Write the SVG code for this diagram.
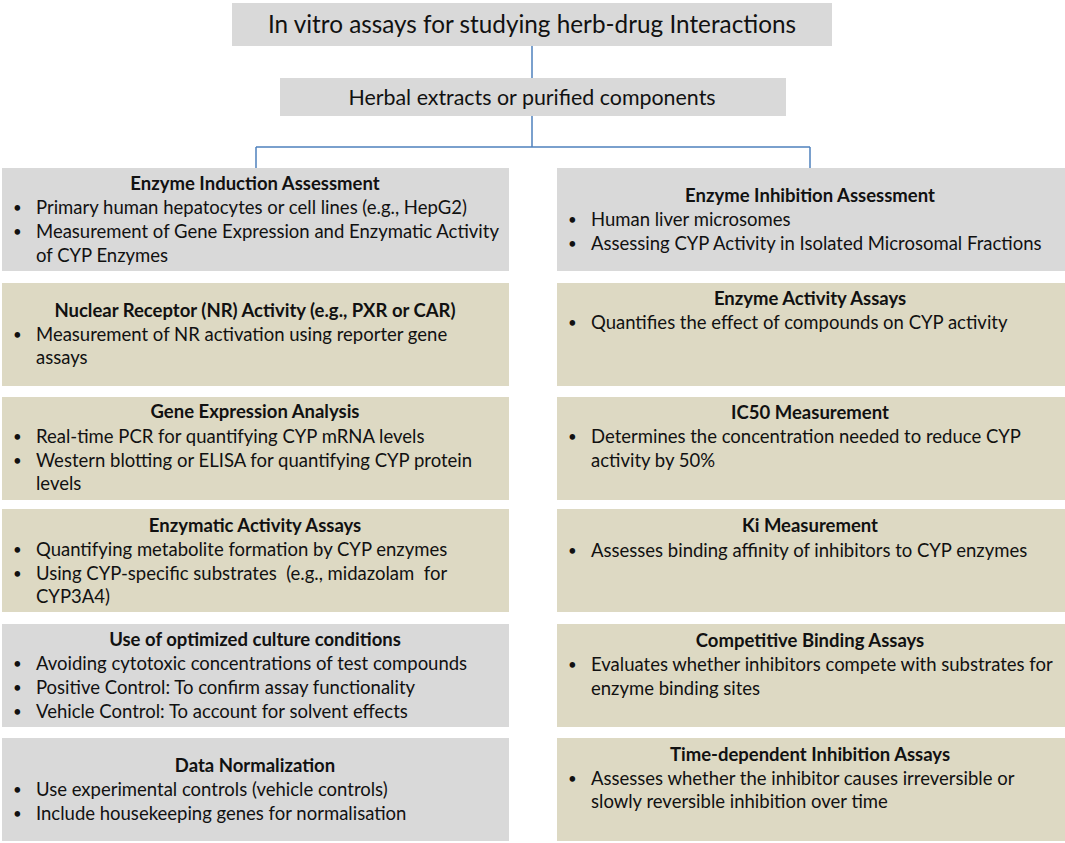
<svg xmlns="http://www.w3.org/2000/svg" width="1065" height="843" viewBox="0 0 1065 843">
<style>
.grey{fill:#d9d9d9}
.tan{fill:#ddd9c3}
text{font-family:Lato,"Liberation Sans",sans-serif;fill:#111}
.title{font-size:24.3px}
.sub{font-size:21.4px}
.h{font-size:18.5px;font-weight:bold;text-anchor:middle}
.b{font-size:18.5px}
.d{font-size:15px}
.pre{white-space:pre}
.conn{stroke:#4f81bd;stroke-width:1.5;fill:none}
</style>
<rect width="1065" height="843" fill="#fff"/>
<g id="connectors">
<path class="conn" d="M532 46V78M532 116V147M256 147H810M256 147V168M810 147V168"/>
</g>
<g id="title"><rect class="grey" x="232" y="3" width="600" height="43"/><text class="title" x="532" y="33" text-anchor="middle">In vitro assays for studying herb-drug Interactions</text></g>
<g id="herbal"><rect class="grey" x="280" y="78" width="506" height="38"/><text class="sub" x="532" y="105" text-anchor="middle">Herbal extracts or purified components</text></g>

<g id="induction"><rect class="grey" x="2" y="168" width="507" height="103"/>
<text class="h" x="255" y="190">Enzyme Induction Assessment</text>
<text class="d" x="13" y="213">•</text><text class="b" x="36" y="214">Primary human hepatocytes or cell lines (e.g., HepG2)</text>
<text class="d" x="13" y="237">•</text><text class="b" x="36" y="238">Measurement of Gene Expression and Enzymatic Activity</text>
<text class="b" x="36" y="262">of CYP Enzymes</text></g>

<g id="nr"><rect class="tan" x="2" y="283" width="507" height="103"/>
<text class="h" x="255" y="317">Nuclear Receptor (NR) Activity (e.g., PXR or CAR)</text>
<text class="d" x="13" y="340">•</text><text class="b" x="36" y="341">Measurement of NR activation using reporter gene</text>
<text class="b" x="36" y="364">assays</text></g>

<g id="gene"><rect class="tan" x="2" y="397" width="507" height="103"/>
<text class="h" x="255" y="418">Gene Expression Analysis</text>
<text class="d" x="13" y="442">•</text><text class="b" x="36" y="443">Real-time PCR for quantifying CYP mRNA levels</text>
<text class="d" x="13" y="466">•</text><text class="b" x="36" y="467">Western blotting or ELISA for quantifying CYP protein</text>
<text class="b" x="36" y="490">levels</text></g>

<g id="enzymatic"><rect class="tan" x="2" y="509" width="507" height="103"/>
<text class="h" x="255" y="532">Enzymatic Activity Assays</text>
<text class="d" x="13" y="555">•</text><text class="b" x="36" y="556">Quantifying metabolite formation by CYP enzymes</text>
<text class="d" x="13" y="579">•</text><text class="b pre" x="36" y="580">Using CYP-specific substrates  (e.g., midazolam  for</text>
<text class="b" x="36" y="603">CYP3A4)</text></g>

<g id="culture"><rect class="grey" x="2" y="624" width="507" height="103"/>
<text class="h" x="255" y="646">Use of optimized culture conditions</text>
<text class="d" x="13" y="669">•</text><text class="b" x="36" y="670">Avoiding cytotoxic concentrations of test compounds</text>
<text class="d" x="13" y="693">•</text><text class="b" x="36" y="694">Positive Control: To confirm assay functionality</text>
<text class="d" x="13" y="717">•</text><text class="b" x="36" y="718">Vehicle Control: To account for solvent effects</text></g>

<g id="normalization"><rect class="grey" x="2" y="738" width="507" height="103"/>
<text class="h" x="255" y="772">Data Normalization</text>
<text class="d" x="13" y="795">•</text><text class="b" x="36" y="796">Use experimental controls (vehicle controls)</text>
<text class="d" x="13" y="819">•</text><text class="b" x="36" y="820">Include housekeeping genes for normalisation</text></g>

<g id="inhibition"><rect class="grey" x="557" y="168" width="508" height="103"/>
<text class="h" x="810" y="202">Enzyme Inhibition Assessment</text>
<text class="d" x="568" y="225">•</text><text class="b" x="591" y="226">Human liver microsomes</text>
<text class="d" x="568" y="249">•</text><text class="b" x="591" y="250">Assessing CYP Activity in Isolated Microsomal Fractions</text></g>

<g id="activity"><rect class="tan" x="557" y="283" width="508" height="103"/>
<text class="h" x="810" y="305">Enzyme Activity Assays</text>
<text class="d" x="568" y="328">•</text><text class="b" x="591" y="329">Quantifies the effect of compounds on CYP activity</text></g>

<g id="ic50"><rect class="tan" x="557" y="397" width="508" height="103"/>
<text class="h" x="810" y="419">IC50 Measurement</text>
<text class="d" x="568" y="442">•</text><text class="b" x="591" y="443">Determines the concentration needed to reduce CYP</text>
<text class="b" x="591" y="467">activity by 50%</text></g>

<g id="ki"><rect class="tan" x="557" y="509" width="508" height="103"/>
<text class="h" x="810" y="532">Ki Measurement</text>
<text class="d" x="568" y="556">•</text><text class="b" x="591" y="557">Assesses binding affinity of inhibitors to CYP enzymes</text></g>

<g id="competitive"><rect class="tan" x="557" y="624" width="508" height="103"/>
<text class="h" x="810" y="647">Competitive Binding Assays</text>
<text class="d" x="568" y="670">•</text><text class="b" x="591" y="671">Evaluates whether inhibitors compete with substrates for</text>
<text class="b" x="591" y="695">enzyme binding sites</text></g>

<g id="timedep"><rect class="tan" x="557" y="738" width="508" height="103"/>
<text class="h" x="810" y="761">Time-dependent Inhibition Assays</text>
<text class="d" x="568" y="784">•</text><text class="b" x="591" y="785">Assesses whether the inhibitor causes irreversible or</text>
<text class="b" x="591" y="808">slowly reversible inhibition over time</text></g>
</svg>
